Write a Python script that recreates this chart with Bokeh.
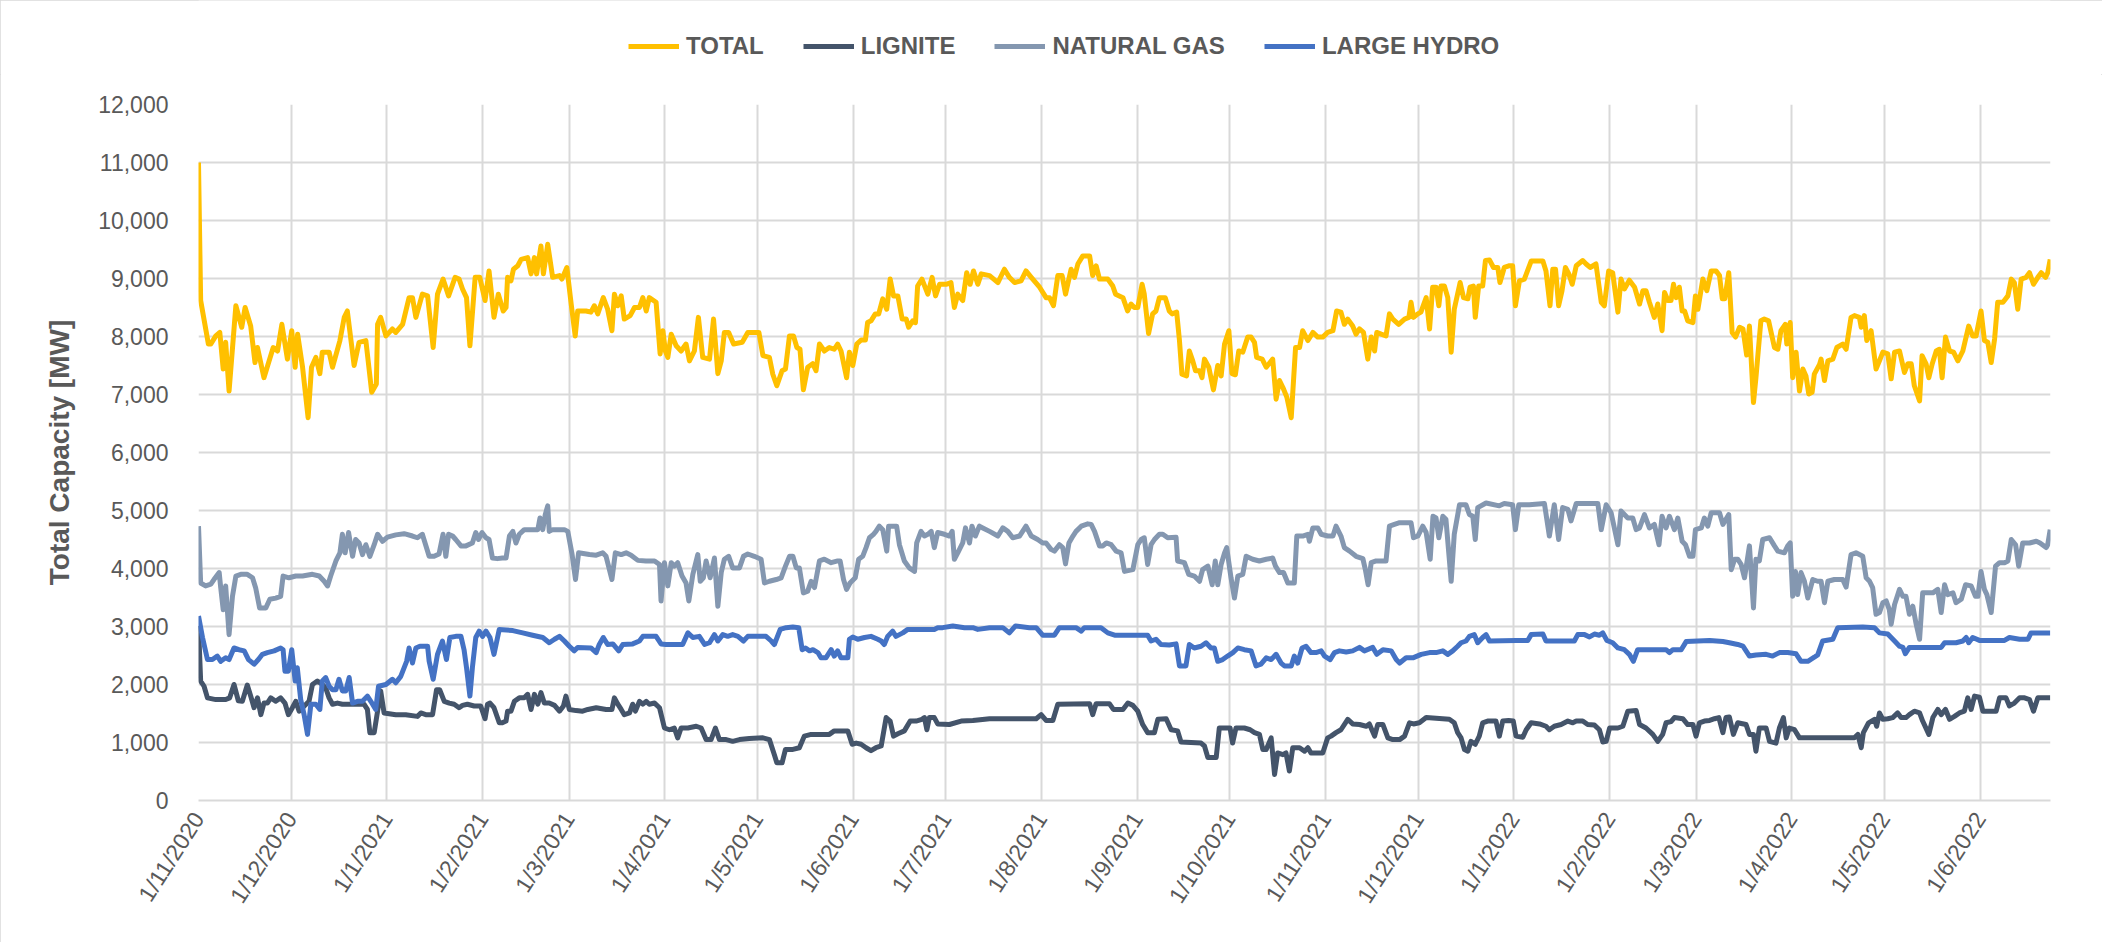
import math
from datetime import date
from bokeh.plotting import figure
from bokeh.layouts import column
from bokeh.models import Range1d, FixedTicker, NumeralTickFormatter, Legend, LegendItem
from bokeh.embed import file_html
from bokeh.resources import INLINE

START = date(2020, 11, 1)

tick_labels = ["1/11/2020", "1/12/2020", "1/1/2021", "1/2/2021", "1/3/2021", "1/4/2021",
               "1/5/2021", "1/6/2021", "1/7/2021", "1/8/2021", "1/9/2021", "1/10/2021",
               "1/11/2021", "1/12/2021", "1/1/2022", "1/2/2022", "1/3/2022", "1/4/2022",
               "1/5/2022", "1/6/2022"]
y_ticks = [0, 1000, 2000, 3000, 4000, 5000, 6000, 7000, 8000, 9000, 10000, 11000, 12000]

# days since 1/11/2020 and MW values
total_day = [0, 0.7, 3.2, 4, 5.6, 6.9, 8, 8.8, 9.9, 12.1, 14, 15.1, 16.9, 18.3, 19.1, 21.2, 24.2, 25.6, 27, 28.8,
             30.2, 31.3, 32.1, 33.7, 35.5, 36.6, 38, 39.3, 40.1, 42.3, 43.4, 45.8, 47.2, 48.2, 50.4, 52, 54.2, 56.1,
             57.6, 58, 59, 60.7, 62.8, 63.9, 66.1, 68.2, 69.3, 70.4, 72.5, 74.2, 76, 77.4, 79.2, 81, 83.1, 84.4,
             85.5, 86.8, 87.9, 89.6, 91.1, 92.8, 94.1, 95.7, 97.1, 98.7, 99.6, 100.1, 101.2, 102, 103.4, 104.5,
             106.6, 107.7, 108.8, 109.5, 110.9, 111.7, 113.1, 114.7, 116.9, 117.7, 119.3, 120.7, 122, 122.8, 125.5,
             127.1, 128.2, 129.3, 131.1, 132.5, 133.9, 134.7, 135.8, 136.9, 137.9, 139.8, 141.2, 142.8, 143.9, 145,
             146, 148.2, 149.5, 150.4, 151.2, 152, 153.1, 154.7, 156.3, 157.9, 159, 160.6, 161.9, 163.3, 165.5,
             166.8, 168.2, 169.3, 170.3, 171.7, 173.3, 176.1, 177.9, 179.5, 181.5, 182.8, 184.9, 186, 187.3, 189,
             190.1, 191.4, 192.7, 193.8, 194.8, 195.9, 197.3, 198.9, 200, 201.1, 202.7, 204.3, 205.9, 207, 208.1,
             209.9, 210.8, 211.9, 213.2, 214.6, 216, 216.7, 217.8, 219.2, 220.3, 221.6, 222.9, 224, 225.1, 226.5,
             227.9, 229.2, 230, 231.3, 232.2, 232.9, 234.3, 236.2, 237.6, 238.7, 240, 242.1, 243.7, 244.8, 245.9,
             247.5, 248.8, 249.9, 251, 252.4, 253.5, 256.2, 258.9, 261, 262.6, 264.3, 266.4, 268, 269.7, 272.4,
             274.5, 275.6, 276.9, 278.3, 279.7, 280.8, 282.6, 283.7, 284.8, 286.4, 288.6, 289.6, 290.7, 291.8,
             294.5, 296.1, 297, 299.4, 300.9, 302, 303.1, 304.2, 305.6, 306.3, 307.7, 309, 310.1, 311.2, 313.1,
             314.4, 315.3, 316.8, 317.7, 318.5, 320, 320.9, 322, 322.9, 324.2, 325, 325.8, 327.2, 328.7, 330.1,
             331.2, 332.3, 333.7, 334.7, 335.8, 336.9, 338.2, 339.8, 340.9, 342, 342.7, 344.5, 345.8, 347.9, 349,
             350.1, 351.2, 352.5, 353.9, 355.3, 356.6, 357.6, 359.3, 360.9, 362.5, 364.1, 365.7, 367.4, 368.6, 370,
             371.1, 372.2, 373.8, 374.9, 376, 377.3, 378.7, 379.8, 380.9, 381.6, 383, 384.6, 385.7, 386.8, 388.7,
             390.6, 392, 392.7, 393.5, 394.9, 395.9, 397.6, 398.7, 399.7, 400.8, 401.7, 402.4, 403.5, 404.6, 405.7,
             406.7, 408.6, 409.7, 411.1, 411.8, 412.9, 413.5, 414.6, 415.9, 416.8, 418.1, 419.4, 420.8, 421.5,
             422.9, 424.6, 425.6, 426.5, 427.8, 429.4, 431.6, 435.4, 436.4, 437.7, 438.6, 439.5, 440.5, 441.6,
             442.7, 443.8, 444.9, 446.2, 448.3, 449.4, 450.7, 452.6, 454.3, 455.3, 456.7, 458, 459.7, 460.7, 461.8,
             463.4, 465.1, 466.7, 467.8, 468.8, 469.9, 471.5, 472.6, 474, 474.8, 475.9, 476.9, 477.7, 478.6, 479.6,
             480.5, 481.3, 482.3, 484, 484.8, 485.6, 487.2, 488.5, 489.9, 491.5, 492.6, 493.5, 494.3, 495.6, 496.7,
             497.8, 499.1, 500.2, 501.4, 502.3, 503.6, 504.4, 506, 507.1, 508.5, 510.4, 511.5, 512.5, 513.9, 514.4,
             515.5, 516.3, 517.4, 518.5, 519.6, 520.6, 521.5, 522.6, 523.3, 525, 525.5, 526.6, 527.7, 529.3, 530.6,
             532.5, 533.6, 535.2, 536.3, 537.9, 538.5, 539.5, 540.3, 541.7, 543.3, 544.4, 545.5, 547.1, 548.2,
             549.3, 550.9, 552.5, 553.6, 554.7, 555.7, 557.4, 558.2, 559.5, 560.4, 561.5, 562.8, 563.8, 564.7,
             565.8, 567.1, 568.4, 569.8, 571.4, 573.3, 574.6, 575.7, 577.3, 578.4, 579.5, 580.6, 581.7, 582.7,
             584.4, 586, 587.1, 588.1, 589.2, 590.3, 591.9, 593, 594.3, 595.7, 596.8, 598.2, 598.9, 599.7]
total_mw = [11000, 8620, 7870, 7870, 8010, 8070, 7440, 7900, 7060, 8530, 8160, 8500, 8180, 7550, 7810, 7290, 7810,
            7750, 8210, 7610, 8100, 7470, 8040, 7470, 6600, 7470, 7640, 7360, 7730, 7730, 7470, 7930, 8330, 8440,
            7500, 7900, 7930, 7040, 7180, 8210, 8330, 8010, 8130, 8070, 8210, 8670, 8670, 8330, 8730, 8700, 7810,
            8730, 8990, 8700, 9020, 8990, 8820, 8670, 7840, 9020, 9020, 8620, 9130, 8330, 8730, 8440, 8500, 9020,
            8960, 9160, 9220, 9330, 9360, 9080, 9360, 9080, 9560, 9080, 9590, 9020, 9050, 8990, 9190, 8560, 8010,
            8440, 8440, 8420, 8530, 8390, 8670, 8470, 8100, 8730, 8530, 8700, 8300, 8360, 8500, 8500, 8670, 8440,
            8670, 8590, 7700, 8100, 7750, 7640, 8040, 7840, 7750, 7870, 7580, 7750, 8330, 7640, 7610, 8300, 7360,
            7580, 8070, 8070, 7870, 7900, 8070, 8070, 8070, 7670, 7640, 7350, 7150, 7410, 7440, 8010, 8010, 7810,
            7780, 7080, 7470, 7530, 7410, 7870, 7750, 7810, 7780, 7870, 7750, 7290, 7730, 7500, 7870, 7940, 7940,
            8240, 8270, 8390, 8390, 8650, 8470, 8990, 8700, 8700, 8300, 8300, 8160, 8270, 8240, 8870, 8990, 8730,
            9020, 8700, 8900, 8900, 8930, 8500, 8730, 8620, 9100, 8900, 9130, 8900, 9080, 9050, 8930, 9160, 9020,
            8930, 8960, 9130, 9020, 8850, 8670, 8670, 8530, 9050, 9050, 8730, 9160, 9020, 9250, 9390, 9390, 9050,
            9220, 8990, 8990, 8870, 8730, 8670, 8440, 8560, 8500, 8500, 8900, 8730, 8050, 8390, 8440, 8670, 8670,
            8440, 8390, 8420, 7930, 7350, 7320, 7750, 7580, 7410, 7410, 7290, 7610, 7470, 7080, 7500, 7320, 7870,
            8100, 7360, 7340, 7750, 7730, 7990, 7990, 7900, 7640, 7610, 7470, 7610, 6920, 7240, 7120, 6950, 6600,
            7810, 7810, 8100, 7930, 8070, 7990, 7990, 8070, 8100, 8440, 8420, 8210, 8300, 8180, 8040, 8130, 8070,
            7610, 7990, 7750, 8070, 8040, 8010, 8390, 8300, 8210, 8300, 8330, 8590, 8330, 8390, 8420, 8670, 8130,
            8850, 8850, 8530, 8870, 8870, 8670, 7730, 8470, 8930, 8670, 8650, 8850, 8870, 8330, 8870, 8870, 9310,
            9320, 9190, 9190, 8930, 9190, 9220, 9220, 8530, 8960, 8990, 9300, 9300, 9130, 8530, 9160, 9160, 8530,
            8790, 9190, 9080, 8900, 9220, 9310, 9250, 9190, 9250, 8590, 8530, 9130, 9100, 8420, 8990, 8820, 8970,
            8850, 8560, 8790, 8790, 8590, 8330, 8560, 8100, 8760, 8620, 8620, 8900, 8670, 8850, 8440, 8440, 8270,
            8240, 8700, 8470, 8990, 8790, 9130, 9130, 9050, 8650, 8650, 9100, 8070, 7990, 8160, 8130, 7680, 8180,
            6860, 7290, 8270, 8300, 8270, 7810, 7780, 8100, 8210, 7870, 8240, 7290, 7730, 7060, 7440, 7320, 7010,
            7040, 7350, 7520, 7610, 7240, 7580, 7610, 7810, 7870, 7780, 8330, 8360, 8330, 8160, 8360, 7930, 8100,
            7440, 7580, 7730, 7700, 7270, 7730, 7750, 7380, 7530, 7530, 7150, 6890, 7670, 7530, 7290, 7530, 7750,
            7780, 7290, 7990, 7750, 7730, 7580, 7750, 8180, 8010, 8010, 8440, 7930, 7900, 7550, 7960, 8590, 8590,
            8700, 8990, 8930, 8470, 8990, 9020, 9100, 8900, 9020, 9100, 9020, 9100, 9330]

lignite_day = [0, 0.7, 1.8, 2.9, 5.6, 8.8, 10.1, 11.5, 12.9, 14.2, 15.8, 16.9, 18, 19.1, 20.2, 21.2, 22.3, 23.4, 25,
               26.6, 28, 29.1, 30.4, 31.5, 32.6, 33.7, 35.8, 36.9, 38.5, 40.1, 41.2, 42.3, 43.4, 45, 46.6, 53.6, 54.7,
               55.5, 56.9, 58, 59, 60.1, 63.9, 67.1, 70.9, 72, 73.6, 75.8, 77.1, 78.1, 79.6, 81.2, 82.8, 84.4, 85.5,
               87.1, 89.3, 91.4, 92.8, 93.6, 94.4, 95.7, 97.4, 98.4, 99.6, 100.1, 101.2, 102.3, 103.9, 105.5, 106.6,
               107.7, 108.8, 109.9, 110.9, 112, 113.6, 115.3, 116.9, 118.2, 119, 120.1, 122.3, 124.4, 126.1, 128.8,
               132, 133.9, 134.7, 135.8, 136.9, 137.9, 139.6, 140.6, 141.5, 142.8, 143.9, 145, 146, 147.7, 149.3,
               150.9, 152.5, 154.1, 155.2, 156.3, 158.5, 161.2, 162.8, 164.4, 166, 167.4, 168.7, 170.9, 173, 175.2,
               178.4, 182.8, 184.9, 186.5, 187.3, 189, 190.1, 192.5, 194.6, 196.2, 198.4, 204.3, 205.9, 210.3, 211.7,
               213, 214.6, 216.2, 217.8, 219.4, 221.1, 222.7, 224, 225.1, 226.5, 228.6, 230.5, 232.4, 234.3, 235.1,
               235.9, 236.7, 238.3, 239.4, 243.2, 247, 250.8, 256.2, 271.3, 272.9, 274.5, 276.7, 278.3, 288.6, 289.6,
               290.7, 295, 296.3, 299.4, 301, 302.6, 304.2, 305.8, 307.4, 309.6, 310.7, 313.4, 315, 317.1, 318.2,
               324.7, 325.8, 326.9, 329.6, 330.6, 334.1, 334.9, 336, 338.7, 340.6, 342, 343.6, 344.7, 345.8, 347.4,
               348.5, 349.5, 351.2, 352.2, 353.3, 354.4, 356.6, 358.2, 359.3, 360.3, 364.1, 365.7, 366.8, 368.4, 370,
               372.2, 373.8, 376, 378.2, 379.2, 380.9, 381.9, 383.6, 385.2, 386.8, 389, 390.6, 392.2, 393.5, 395.4,
               397.6, 405.1, 406.7, 407.8, 408.9, 410, 411.1, 412.1, 413.5, 414.8, 415.9, 417.5, 420.2, 421.3, 422.4,
               424.3, 425.8, 426.7, 428.9, 430, 431.6, 434.3, 436.4, 437.5, 439.1, 441.3, 443.5, 445.1, 446.2, 448.3,
               449.9, 452.1, 453.7, 454.8, 455.9, 457, 459.7, 461.3, 462.9, 465.6, 466.7, 468.8, 471, 472.6, 474.2,
               475.3, 476.9, 478, 480.7, 482.3, 484, 485, 486.1, 487.7, 489.4, 491, 492.4, 493.7, 494.7, 495.8, 497.1,
               498.5, 501.2, 502.3, 503.6, 504.4, 505.5, 507.7, 508.8, 510.9, 512, 513.3, 514.2, 515.2, 516.9, 518.5,
               536.3, 537.4, 538.5, 539.2, 540.9, 542.8, 543.5, 544.4, 545.5, 547.1, 548.7, 550.3, 551.4, 553, 554.1,
               555.7, 557.4, 558.4, 560.4, 561.7, 563.3, 564.4, 565.8, 567.1, 568.7, 570.3, 571.9, 573, 574.1, 575.2,
               576.8, 577.9, 582.2, 583.3, 585.4, 586.5, 588.1, 589.8, 591.4, 593, 594.3, 595.7, 599.7]
lignite_mw = [3010, 2060, 1970, 1770, 1740, 1740, 1770, 2000, 1720, 1710, 1990, 1800, 1600, 1770, 1480, 1680, 1680,
              1770, 1710, 1770, 1680, 1480, 1600, 1710, 1540, 1600, 1710, 2000, 2060, 2000, 1940, 1770, 1660, 1680,
              1660, 1660, 1570, 1170, 1170, 1540, 1890, 1510, 1480, 1480, 1450, 1510, 1480, 1480, 1910, 1910, 1710,
              1680, 1660, 1600, 1640, 1660, 1630, 1630, 1410, 1660, 1680, 1600, 1340, 1340, 1370, 1540, 1540, 1710,
              1770, 1770, 1830, 1570, 1830, 1660, 1860, 1680, 1680, 1640, 1540, 1630, 1800, 1570, 1550, 1540, 1570,
              1600, 1570, 1570, 1770, 1660, 1570, 1480, 1510, 1660, 1540, 1710, 1660, 1710, 1660, 1680, 1600, 1250,
              1220, 1250, 1080, 1250, 1250, 1280, 1250, 1050, 1050, 1250, 1050, 1050, 1020, 1050, 1070, 1080, 1050,
              790, 650, 650, 880, 880, 910, 1110, 1140, 1140, 1200, 1200, 970, 990, 970, 910, 860, 910, 940, 1430,
              1370, 1110, 1150, 1200, 1370, 1370, 1400, 1430, 1220, 1430, 1430, 1320, 1310, 1370, 1380, 1410, 1410,
              1480, 1380, 1380, 1660, 1670, 1480, 1670, 1670, 1570, 1570, 1680, 1640, 1540, 1310, 1170, 1170, 1400,
              1410, 1220, 1200, 1010, 990, 940, 740, 740, 1250, 1250, 990, 1250, 1250, 1220, 1170, 1140, 880, 880,
              1080, 450, 820, 790, 820, 510, 910, 910, 850, 910, 820, 820, 1080, 1110, 1170, 1220, 1400, 1320, 1310,
              1280, 1320, 1110, 1310, 1310, 1080, 1050, 1050, 1110, 1340, 1320, 1340, 1430, 1400, 1340, 1170, 1080,
              880, 850, 1020, 970, 1110, 1340, 1370, 1370, 1110, 1370, 1380, 1370, 1110, 1090, 1220, 1340, 1320,
              1280, 1220, 1280, 1310, 1370, 1340, 1370, 1370, 1310, 1300, 1220, 1010, 1020, 1250, 1250, 1280, 1540,
              1550, 1310, 1250, 1140, 1020, 1140, 1340, 1360, 1430, 1410, 1310, 1310, 1110, 1340, 1370, 1380, 1410,
              1430, 1170, 1430, 1440, 1140, 1340, 1310, 1140, 1140, 850, 1250, 1250, 1020, 990, 1250, 1430, 1080,
              1250, 1220, 1080, 1080, 1140, 910, 1170, 1340, 1400, 1280, 1510, 1400, 1410, 1430, 1510, 1430, 1430,
              1480, 1540, 1510, 1370, 1140, 1430, 1570, 1480, 1570, 1400, 1450, 1510, 1540, 1770, 1570, 1800, 1780,
              1540, 1540, 1770, 1770, 1630, 1680, 1770, 1770, 1740, 1540, 1770, 1770]

gas_day = [0, 0.7, 2.3, 4, 5, 6.7, 7.2, 8, 8.8, 9.9, 11, 12.1, 13.7, 15.8, 17.5, 18.5, 19.8, 21.8, 23.1, 25, 26.6,
           27.4, 29.3, 31.5, 33.7, 36.9, 39.1, 40.7, 41.8, 42.8, 44.5, 45.8, 46.6, 47.5, 48.6, 49.9, 50.9, 52, 53.1,
           54.2, 55.5, 56.9, 58, 59.6, 61.2, 63.9, 66.6, 69.3, 70.9, 72.5, 74.7, 76.3, 77.9, 79.2, 80.1, 81, 82.3,
           83.3, 85, 86.6, 88.7, 89.8, 90.7, 91.8, 93.1, 94.1, 95.2, 96.8, 98.4, 99.6, 100.7, 101.8, 102.8, 103.9,
           105.5, 107.7, 109.9, 110.6, 111.5, 112.3, 113.1, 113.6, 114.7, 118.5, 119.6, 121, 122.1, 123.1, 126.6,
           128.8, 130.9, 132, 133.9, 135, 136.9, 138.5, 140.1, 142.3, 144.9, 147.7, 149.3, 149.8, 150.9, 152, 153.1,
           154.1, 155.2, 156.6, 157.9, 158.8, 160.1, 161.7, 162.5, 163.5, 164.4, 165.7, 167.1, 168.2, 169.3, 170.3,
           171.7, 173, 175.2, 176.5, 177.9, 180, 182.2, 183.3, 184.9, 187.1, 188.7, 190.1, 191.4, 192.5, 193.6,
           194.6, 195.9, 197.3, 198.4, 199.5, 201.1, 202.7, 204.9, 207, 207.8, 208.9, 209.9, 211, 212.7, 213.8,
           215.1, 216.2, 217.3, 218.6, 219.4, 220.5, 221.6, 222.9, 223.5, 226.1, 227, 228.6, 230.2, 231.9, 232.6,
           234, 235.1, 236.2, 237.3, 238.3, 239.4, 241.6, 243.2, 244.1, 244.8, 245.9, 247.5, 248.4, 249.7, 250.5,
           251.6, 252.9, 254, 256.2, 258.9, 260.5, 262.1, 263.7, 265.9, 268, 269.7, 271.8, 273.4, 274.5, 276.1,
           277.2, 278.8, 279.9, 280.8, 281.9, 283.2, 284.2, 285.9, 288, 289.1, 290.2, 291.8, 292.9, 294, 295.6,
           297.2, 298.8, 299.9, 302.6, 304.2, 305.3, 306.3, 307.4, 308.5, 309.6, 311.2, 312.3, 313.9, 316.6, 317.1,
           319.3, 320.7, 322.5, 324.2, 325.2, 326.9, 328.3, 329.3, 330.1, 331.2, 332.3, 333, 334.4, 335.5, 336.6,
           338.2, 339.3, 341.4, 343.6, 345.8, 347.9, 348.8, 350.1, 351.4, 352.8, 354.9, 355.7, 357.6, 359.3, 359.8,
           360.9, 362.5, 363.6, 365.7, 367.4, 368.4, 370, 371.1, 372.8, 374.9, 377.1, 377.9, 378.8, 379.8, 381.4,
           384.6, 385.7, 387.3, 389, 392.7, 393.5, 394.9, 396.5, 397.6, 398.9, 399.8, 400.8, 401.7, 403, 404, 405.7,
           406.7, 408.4, 410.5, 411.6, 412.7, 413.5, 414.3, 417, 421.3, 422.9, 425.6, 426.5, 427.6, 431, 435.9,
           437.5, 439.1, 440.5, 441.8, 443.5, 444.5, 446.2, 453.2, 454.3, 455.9, 457.5, 459.7, 460.7, 462.9, 464.5,
           465.6, 466.7, 468.3, 469.9, 471.5, 473, 474, 475.3, 476.4, 478, 479.1, 480.5, 481.6, 482.9, 484, 484.8,
           486.7, 487.7, 488.8, 489.9, 492.6, 493.7, 495.6, 496.4, 497.5, 498.5, 499.6, 500.7, 502.3, 503.6, 504.4,
           505.5, 506.6, 508.8, 510.4, 511.5, 513.6, 514.7, 515.5, 516.3, 517.2, 517.9, 519, 520.1, 521.2, 522.8,
           524.4, 525.5, 526.6, 527.7, 529.8, 532.5, 533.6, 535.2, 536.8, 539, 540.1, 541.2, 542.2, 543.3, 544.4,
           545.5, 546.6, 547.6, 548.2, 549.3, 550.9, 552, 553, 554.1, 555.2, 556.3, 557.4, 558.4, 561.7, 563.3,
           564.4, 565.5, 566.5, 568.2, 569.2, 570.9, 572.3, 574.1, 575.5, 576.3, 577.3, 578.4, 579.2, 580.6, 582,
           583.3, 584.9, 586, 587.1, 588.5, 589.5, 590.8, 593, 595.2, 596.4, 598.4, 598.9, 599.7]
gas_mw = [4730, 3750, 3700, 3730, 3810, 3930, 3670, 3290, 3700, 2860, 3520, 3870, 3900, 3900, 3840, 3670, 3320,
          3320, 3470, 3490, 3520, 3870, 3840, 3870, 3870, 3900, 3870, 3780, 3700, 3870, 4130, 4270, 4590, 4270, 4620,
          4210, 4500, 4440, 4240, 4410, 4210, 4410, 4590, 4470, 4540, 4580, 4600, 4560, 4530, 4590, 4210, 4210, 4250,
          4590, 4210, 4590, 4560, 4500, 4390, 4390, 4440, 4620, 4500, 4620, 4530, 4500, 4180, 4170, 4180, 4180, 4560,
          4640, 4440, 4590, 4670, 4670, 4670, 4870, 4670, 4930, 5080, 4640, 4670, 4670, 4640, 4240, 3810, 4270, 4240,
          4230, 4270, 4210, 3810, 4270, 4240, 4270, 4230, 4140, 4130, 4130, 4070, 3440, 4100, 3700, 4100, 4040, 4100,
          3870, 3750, 3440, 3900, 4240, 3780, 3840, 4130, 3840, 4180, 3350, 3930, 4160, 4210, 4010, 4010, 4210, 4250,
          4210, 4160, 3750, 3780, 3810, 3840, 4040, 4210, 4210, 4010, 4010, 3580, 3610, 3780, 3670, 4130, 4160, 4100,
          4130, 4130, 3810, 3640, 3750, 3840, 4160, 4210, 4360, 4530, 4590, 4640, 4730, 4670, 4300, 4730, 4730, 4410,
          4130, 4010, 3950, 4440, 4640, 4560, 4590, 4640, 4360, 4620, 4590, 4560, 4640, 4160, 4270, 4440, 4700, 4440,
          4730, 4560, 4730, 4700, 4640, 4560, 4700, 4640, 4530, 4560, 4730, 4560, 4500, 4440, 4440, 4330, 4300, 4410,
          4360, 4080, 4440, 4560, 4640, 4730, 4770, 4760, 4640, 4390, 4390, 4440, 4410, 4300, 4270, 3950, 3980, 4410,
          4500, 4530, 4070, 4410, 4500, 4590, 4590, 4530, 4540, 4130, 4100, 3900, 3870, 3780, 3980, 4040, 3720, 4130,
          3720, 4070, 4270, 4360, 3840, 3490, 3870, 3900, 4210, 4160, 4130, 4160, 4180, 4040, 3930, 3930, 3750, 3750,
          4560, 4560, 4590, 4470, 4700, 4700, 4590, 4560, 4560, 4730, 4560, 4360, 4300, 4210, 4170, 3980, 3720, 4100,
          4130, 4130, 4730, 4760, 4790, 4790, 4530, 4560, 4730, 4620, 4160, 4900, 4870, 4530, 4900, 4850, 3780, 4590,
          5100, 5100, 4930, 4900, 4500, 5050, 5130, 5080, 5120, 5100, 4670, 5100, 5100, 5120, 4560, 5100, 4500, 5050,
          5020, 4820, 5120, 5120, 4670, 5100, 4960, 4410, 4990, 4870, 4870, 4670, 4700, 4930, 4700, 4760, 4410, 4900,
          4700, 4900, 4670, 4870, 4470, 4410, 4210, 4210, 4670, 4700, 4870, 4730, 4960, 4960, 4760, 4930, 3980, 4160,
          4160, 4070, 3840, 4390, 3320, 4160, 4130, 4500, 4530, 4390, 4300, 4270, 4390, 4440, 3520, 3950, 3550, 3930,
          3780, 3490, 3810, 3780, 3780, 3410, 3780, 3810, 3810, 3680, 4240, 4270, 4210, 3840, 3780, 3670, 3210, 3240,
          3410, 3440, 3290, 3040, 3380, 3640, 3520, 3520, 3210, 3350, 3040, 2780, 3580, 3580, 3640, 3240, 3720, 3550,
          3580, 3410, 3470, 3720, 3700, 3520, 3520, 3950, 3640, 3550, 3240, 4040, 4100, 4100, 4130, 4500, 4410, 4040,
          4440, 4440, 4470, 4440, 4360, 4410, 4670]

hydro_day = [0, 1.3, 2.9, 4.5, 6.1, 7.2, 8.8, 9.9, 11.5, 13.1, 14.8, 16.2, 18, 19.4, 20.7, 22.3, 24.5, 26.6, 27.4,
             28, 29.1, 30.2, 31.3, 32, 33.1, 34.2, 35.3, 36.4, 38, 39.3, 40.1, 41.2, 42.3, 43.4, 44.5, 45.5, 46.6,
             47.7, 48.8, 49.9, 51.5, 53.1, 54.7, 55.8, 57.4, 58.3, 60.7, 62.8, 63.9, 65.5, 67.4, 68.2, 69.3, 70.4,
             71.7, 74.2, 74.7, 76, 77.4, 79, 80.3, 81.4, 83.3, 85, 86, 86.8, 87.9, 88.7, 89.8, 90.9, 92, 93.1, 94.4,
             95.7, 97.4, 101.8, 105, 108.2, 111.5, 113.6, 115.3, 116.9, 118.5, 120.1, 121.7, 122.8, 127.1, 128.8,
             129.8, 131.1, 132.5, 134.2, 136.1, 137.4, 140.6, 142.8, 143.9, 148.2, 149.8, 151.4, 156.8, 158.5, 160.1,
             162.2, 163.9, 165.5, 167.1, 168.2, 169.8, 171.4, 173, 174.7, 176.5, 177.9, 183.8, 185.5, 186.5, 188.4,
             190.3, 192.5, 194.4, 195.5, 196.6, 197.9, 199, 200.6, 201.6, 203.2, 204.9, 205.9, 207, 208.1, 210.3,
             210.8, 211.9, 213.5, 215.7, 217.8, 220, 221.1, 222.1, 223.2, 224.8, 225.9, 228.1, 229.7, 238.3, 239.4,
             241, 244.3, 248.1, 250.8, 252.4, 256.2, 260.5, 262.6, 264.6, 269.1, 271.3, 273.4, 277.2, 278.8, 284.2,
             285.9, 286.9, 292.3, 294.5, 296.7, 307.4, 308.5, 310.1, 311.7, 314.4, 316.6, 317.7, 319.8, 320.9,
             322.5, 324.7, 326.3, 327.9, 329, 330.1, 331.7, 333.3, 335, 336.6, 338.7, 340.9, 342.5, 344.1, 345.8,
             347.4, 349, 350.6, 351.7, 353.9, 354.9, 356, 357.4, 358.7, 360.3, 361.9, 363.6, 364.7, 366.5, 367.9,
             369.5, 371.7, 373.8, 376, 377.6, 380.3, 381.6, 383.6, 386.3, 387.9, 389, 391.1, 393.3, 396, 398.7,
             400.8, 403, 404.6, 406.2, 407.8, 408.9, 410.5, 411.6, 413.2, 414.3, 415.9, 417, 418.1, 426.7, 430.5,
             431.6, 435.4, 436.4, 445.6, 446.7, 448.9, 450.5, 452.1, 453.7, 454.8, 456.1, 458, 459.7, 461.8, 463.4,
             464.7, 466.1, 475.3, 476.4, 477.5, 480.2, 481.8, 489.4, 493.7, 495.8, 498.5, 500.2, 502.3, 504.4,
             507.7, 509.8, 512, 514.7, 517.4, 519, 521.2, 523.3, 524.4, 526, 529.3, 530.9, 539, 542.8, 544.4, 547.1,
             549.3, 550.9, 552, 552.8, 554.1, 564.4, 565.5, 569.2, 571.4, 572.5, 573.3, 574.6, 576.8, 584.9, 586.5,
             589.8, 592.5, 593.5, 599.7]
hydro_mw = [3180, 2810, 2430, 2430, 2490, 2400, 2460, 2430, 2630, 2600, 2580, 2430, 2350, 2430, 2520, 2550, 2580,
            2630, 2600, 2230, 2230, 2600, 2060, 2290, 1740, 1480, 1140, 1660, 1660, 1570, 2060, 2120, 1970, 1910, 1910,
            2090, 1890, 1890, 2120, 1680, 1710, 1710, 1800, 1710, 1570, 1970, 2000, 2090, 2030, 2140, 2400, 2630, 2370,
            2630, 2660, 2660, 2400, 2090, 2520, 2750, 2430, 2810, 2830, 2830, 2600, 2290, 1800, 2290, 2810, 2920, 2830,
            2920, 2810, 2520, 2950, 2930, 2890, 2850, 2810, 2720, 2780, 2830, 2750, 2660, 2580, 2640, 2630, 2550, 2690,
            2810, 2690, 2700, 2580, 2690, 2700, 2750, 2830, 2830, 2700, 2690, 2690, 2890, 2810, 2830, 2690, 2720, 2860,
            2750, 2860, 2830, 2860, 2830, 2750, 2830, 2830, 2750, 2690, 2950, 2980, 2990, 2980, 2600, 2630, 2580, 2600,
            2550, 2460, 2460, 2600, 2490, 2580, 2460, 2460, 2780, 2820, 2780, 2810, 2830, 2780, 2750, 2690, 2830, 2920,
            2830, 2890, 2950, 2950, 2980, 2980, 3010, 2980, 2980, 2950, 2980, 2980, 2890, 3010, 2980, 2980, 2850, 2850,
            2980, 2980, 2920, 2980, 2980, 2890, 2850, 2850, 2750, 2780, 2690, 2680, 2700, 2320, 2320, 2690, 2630, 2660,
            2720, 2630, 2630, 2400, 2430, 2490, 2550, 2630, 2600, 2580, 2320, 2350, 2460, 2430, 2520, 2370, 2320, 2320,
            2490, 2370, 2630, 2660, 2550, 2550, 2580, 2490, 2430, 2550, 2580, 2560, 2580, 2640, 2580, 2640, 2520, 2600,
            2580, 2430, 2370, 2460, 2460, 2520, 2550, 2550, 2580, 2520, 2580, 2660, 2720, 2750, 2830, 2860, 2720, 2810,
            2860, 2750, 2760, 2760, 2860, 2870, 2750, 2750, 2860, 2860, 2820, 2870, 2850, 2890, 2760, 2720, 2630, 2600,
            2520, 2400, 2600, 2600, 2550, 2600, 2600, 2740, 2760, 2740, 2720, 2690, 2660, 2490, 2510, 2520, 2490, 2550,
            2550, 2530, 2400, 2400, 2470, 2510, 2750, 2780, 2980, 2990, 2980, 2890, 2870, 2750, 2660, 2640, 2530, 2640,
            2640, 2720, 2720, 2750, 2810, 2720, 2810, 2760, 2760, 2810, 2780, 2780, 2890, 2890]

TEXT = "#595959"
FONT = "Liberation Sans"
W = 2102
TOP_H = 74
MAIN_H = 868

series = [("TOTAL", total_day, total_mw, "#FFC000"),
          ("LIGNITE", lignite_day, lignite_mw, "#44546A"),
          ("NATURAL GAS", gas_day, gas_mw, "#8497B0"),
          ("LARGE HYDRO", hydro_day, hydro_mw, "#4472C4")]


def to_day(s):
    d, m, y = (int(v) for v in s.split("/"))
    return (date(y, m, d) - START).days


tick_pos = [to_day(s) for s in tick_labels]

# ---- legend strip (series are drawn out of view; only the legend shows) --
lg = figure(width=W, height=TOP_H, output_backend="svg", toolbar_location=None,
            x_range=Range1d(0, 1), y_range=Range1d(-2, -1), min_border=0)
lg.axis.visible = False
lg.grid.visible = False
lg.outline_line_color = None
lg.background_fill_color = "white"
lg.border_fill_color = "white"
items = []
for name, xs, ys, col in series:
    r = lg.line(xs, ys, line_color=col, line_width=5)
    items.append(LegendItem(label=name, renderers=[r]))
legend = Legend(items=items, orientation="horizontal", location=(430, 14),
                glyph_width=51, glyph_height=24, label_standoff=7, spacing=39,
                padding=0, margin=0, border_line_color=None, background_fill_alpha=0,
                label_text_font=FONT, label_text_font_size="24px", label_text_color=TEXT,
                label_text_font_style="bold")
lg.add_layout(legend)

# ---- main chart ---------------------------------------------------------
p = figure(width=W, height=MAIN_H, output_backend="svg", toolbar_location=None,
           x_range=Range1d(0, 599.8), y_range=Range1d(0, 12000),
           min_border_left=198, min_border_right=W - 2050, min_border_top=104 - TOP_H,
           min_border_bottom=MAIN_H - (800 - TOP_H))
p.outline_line_color = None
p.background_fill_color = "white"
p.border_fill_color = "white"

p.xaxis.ticker = FixedTicker(ticks=tick_pos)
p.xaxis.major_label_overrides = {pos: lab for pos, lab in zip(tick_pos, tick_labels)}
p.xaxis.major_label_orientation = 1.0
p.yaxis.ticker = FixedTicker(ticks=y_ticks)
p.yaxis.formatter = NumeralTickFormatter(format="0,0")

for ax in (p.xaxis, p.yaxis):
    ax.major_tick_line_color = None
    ax.minor_tick_line_color = None
    ax.major_label_text_font = FONT
    ax.major_label_text_color = TEXT
p.yaxis.major_label_text_font_size = "23px"
p.xaxis.major_label_text_font_size = "23px"
p.yaxis.axis_line_color = None
p.xaxis.axis_line_color = "#D9D9D9"
p.xaxis.axis_line_width = 2
p.yaxis.major_label_standoff = 24
p.xaxis.major_label_standoff = 8

p.yaxis.axis_label = "Total Capacity [MW]"
p.yaxis.axis_label_text_font = FONT
p.yaxis.axis_label_text_font_size = "28px"
p.yaxis.axis_label_text_font_style = "bold"
p.yaxis.axis_label_text_color = TEXT
p.yaxis.axis_label_standoff = 20

p.xgrid.grid_line_color = "#D9D9D9"
p.ygrid.grid_line_color = "#D9D9D9"
p.xgrid.grid_line_width = 2
p.ygrid.grid_line_width = 2

for name, xs, ys, col in series:
    p.line(xs, ys, line_color=col, line_width=5, line_join="round")

layout = column(lg, p, spacing=0)
layout.styles = {"outline": "1px solid #D9D9D9", "outline-offset": "-1px"}

open("out.html", "w").write(file_html(layout, INLINE))
